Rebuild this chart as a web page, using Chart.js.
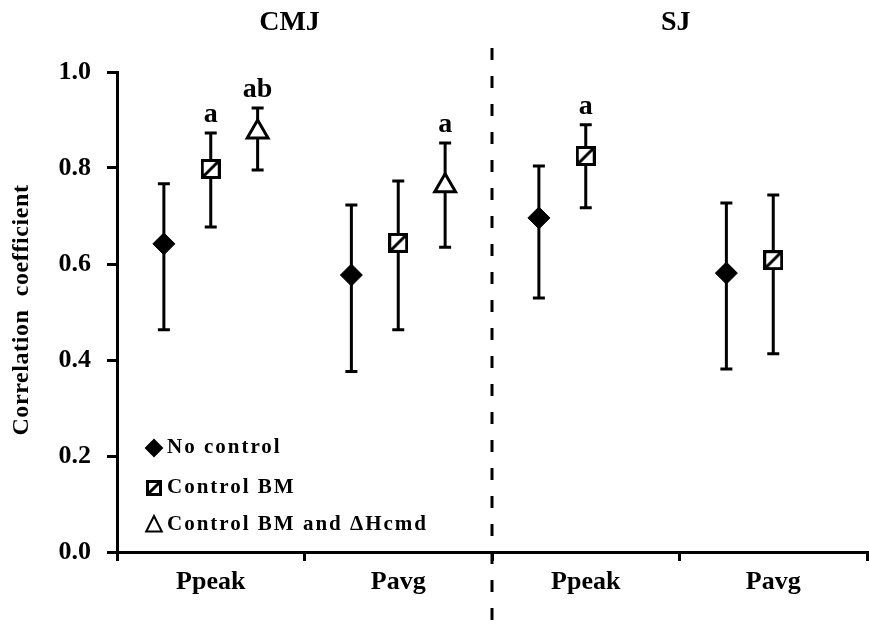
<!DOCTYPE html>
<html>
<head>
<meta charset="utf-8">
<script src="https://cdn.jsdelivr.net/npm/chart.js@4.4.1/dist/chart.umd.min.js"></script>
<style>
  html, body { margin: 0; padding: 0; background: #fff; }
</style>
</head>
<body>
<canvas id="myChart" width="869" height="629"></canvas>
<script>
// categories on the x axis (two per jump type)
const categories = ['Ppeak', 'Pavg', 'Ppeak', 'Pavg'];
const groups = ['CMJ', 'SJ'];
const yTicks = [0, 0.2, 0.4, 0.6, 0.8, 1.0];

// No control
const noControl = [0.642, 0.577, 0.696, 0.581];
const noControlLow = [0.463, 0.376, 0.529, 0.381];
const noControlHigh = [0.767, 0.723, 0.804, 0.727];

// Control BM
const controlBM = [0.798, 0.644, 0.825, 0.608];
const controlBMLow = [0.677, 0.463, 0.717, 0.413];
const controlBMHigh = [0.873, 0.773, 0.890, 0.744];
const controlBMLetters = ['a', '', 'a', ''];

// Control BM and dHcmd (CMJ only)
const controlBMH = [0.875, 0.763];
const controlBMHLow = [0.796, 0.635];
const controlBMHHigh = [0.925, 0.852];
const controlBMHLetters = ['ab', 'a'];

const FONT = '"Liberation Serif", "Times New Roman", serif';

// square marker with a diagonal stroke
function makeSquare(size, border) {
    const c = document.createElement('canvas');
    c.width = size; c.height = size;
    const g = c.getContext('2d');
    g.fillStyle = '#000';
    g.fillRect(0, 0, size, size);
    g.fillStyle = '#fff';
    g.fillRect(border, border, size - 2 * border, size - 2 * border);
    g.strokeStyle = '#000';
    g.lineWidth = border;
    g.beginPath();
    g.moveTo(border, size - border);
    g.lineTo(size - border, border);
    g.stroke();
    return c;
}
const squareBig = makeSquare(20, 3);
const squareSmall = makeSquare(16, 3);

function points(values, offset) {
    return values.map((v, i) => ({ x: i + 0.5 + offset, y: v }));
}

const series = [
    { values: noControl, low: noControlLow, high: noControlHigh, offset: -0.25, letters: [] },
    { values: controlBM, low: controlBMLow, high: controlBMHigh, offset: 0, letters: controlBMLetters },
    { values: controlBMH, low: controlBMHLow, high: controlBMHHigh, offset: 0.25, letters: controlBMHLetters }
];

const extras = {
    id: 'extras',
    beforeDatasetsDraw(chart) {
        const ctx = chart.ctx;
        const xs = chart.scales.x, ys = chart.scales.y;
        ctx.save();
        ctx.strokeStyle = '#000';
        ctx.lineWidth = 3;
        series.forEach(s => {
            s.values.forEach((v, i) => {
                const x = xs.getPixelForValue(i + 0.5 + s.offset);
                const y1 = ys.getPixelForValue(s.low[i]);
                const y2 = ys.getPixelForValue(s.high[i]);
                ctx.beginPath();
                ctx.moveTo(x, y1); ctx.lineTo(x, y2);
                ctx.moveTo(x - 6, y1); ctx.lineTo(x + 6, y1);
                ctx.moveTo(x - 6, y2); ctx.lineTo(x + 6, y2);
                ctx.stroke();
            });
        });
        ctx.restore();
    },
    afterDraw(chart) {
        const ctx = chart.ctx;
        const xs = chart.scales.x, ys = chart.scales.y;
        ctx.save();
        ctx.fillStyle = '#000';

        // significance letters
        ctx.font = 'bold 28px ' + FONT;
        ctx.textAlign = 'center';
        ctx.textBaseline = 'alphabetic';
        series.forEach(s => {
            s.letters.forEach((t, i) => {
                if (!t) return;
                const x = xs.getPixelForValue(i + 0.5 + s.offset);
                const y = ys.getPixelForValue(s.high[i]) - 11;
                ctx.fillText(t, x, y);
            });
        });

        // group titles
        ctx.font = 'bold 28px ' + FONT;
        ctx.textBaseline = 'middle';
        ctx.fillText(groups[0], xs.getPixelForValue(0.92), 23);
        ctx.fillText(groups[1], xs.getPixelForValue(2.98), 23);

        // dashed divider
        ctx.strokeStyle = '#000';
        ctx.lineWidth = 3;
        ctx.setLineDash([12, 16]);
        const xd = xs.getPixelForValue(2);
        ctx.beginPath();
        ctx.moveTo(xd, 48);
        ctx.lineTo(xd, 629);
        ctx.stroke();
        ctx.setLineDash([]);

        // y axis title
        ctx.save();
        ctx.translate(22, 310);
        ctx.rotate(-Math.PI / 2);
        ctx.font = 'bold 24px ' + FONT;
        ctx.letterSpacing = '0.6px';
        ctx.fillText('Correlation  coefficient', 0, 0);
        ctx.restore();

        // legend inside the plot
        const lx = 154;
        const items = [
            { y: 448, text: 'No control', style: 'rectRot', radius: 8, fill: '#000' },
            { y: 488, text: 'Control BM', style: squareSmall },
            { y: 525, text: 'Control BM and \u0394Hcmd', style: 'triangle', radius: 9, fill: '#fff' }
        ];
        ctx.font = 'bold 21px ' + FONT;
        ctx.letterSpacing = '2px';
        ctx.textAlign = 'left';
        ctx.textBaseline = 'middle';
        items.forEach(it => {
            if (typeof it.style === 'string') {
                ctx.fillStyle = it.fill;
                ctx.strokeStyle = '#000';
                ctx.lineWidth = 2;
                const r = it.radius;
                ctx.beginPath();
                if (it.style === 'rectRot') {
                    ctx.moveTo(lx, it.y - r); ctx.lineTo(lx + r, it.y);
                    ctx.lineTo(lx, it.y + r); ctx.lineTo(lx - r, it.y);
                } else {
                    ctx.moveTo(lx, it.y - r);
                    ctx.lineTo(lx + r * 0.866, it.y + r * 0.5 + 2);
                    ctx.lineTo(lx - r * 0.866, it.y + r * 0.5 + 2);
                }
                ctx.closePath();
                ctx.fill();
                ctx.stroke();
            } else {
                ctx.drawImage(it.style, lx - it.style.width / 2, it.y - it.style.height / 2);
            }
            ctx.fillStyle = '#000';
            ctx.fillText(it.text, lx + 13, it.y);
        });
        ctx.restore();
    }
};

const ctx = document.getElementById('myChart').getContext('2d');
const myChart = new Chart(ctx, {
    type: 'scatter',
    data: {
        datasets: [
            {
                label: 'No control',
                data: points(noControl, -0.25),
                pointStyle: 'rectRot',
                pointRadius: 11,
                backgroundColor: '#000',
                borderColor: '#000',
                borderWidth: 1
            },
            {
                label: 'Control BM',
                data: points(controlBM, 0),
                pointStyle: squareBig,
                borderColor: '#000'
            },
            {
                label: 'Control BM and \u0394Hcmd',
                data: points(controlBMH, 0.25),
                pointStyle: 'triangle',
                pointRadius: 12,
                backgroundColor: '#fff',
                borderColor: '#000',
                borderWidth: 3
            }
        ]
    },
    options: {
        responsive: false,
        animation: false,
        layout: { autoPadding: false, padding: { top: 72, right: 2, left: 0, bottom: 0 } },
        plugins: {
            legend: { display: false },
            tooltip: { enabled: false }
        },
        scales: {
            x: {
                type: 'linear',
                min: 0,
                max: 4,
                afterFit(scale) {
                    scale.height = 77;
                    scale.paddingRight = 0;
                },
                afterBuildTicks(scale) {
                    scale.ticks = [0, 0.5, 1, 1.5, 2, 2.5, 3, 3.5, 4].map(v => ({ value: v }));
                },
                ticks: {
                    autoSkip: false,
                    maxRotation: 0,
                    color: '#000',
                    padding: 6,
                    font: { family: FONT, size: 26, weight: 'bold' },
                    callback: (v) => (v % 1 === 0.5) ? categories[Math.floor(v)] : ''
                },
                grid: {
                    drawOnChartArea: false,
                    tickLength: 9,
                    lineWidth: 3,
                    color: (c) => (c.tick && c.tick.value % 1 === 0) ? '#000' : 'rgba(0,0,0,0)'
                },
                border: { display: true, color: '#000', width: 3 }
            },
            y: {
                min: 0,
                max: 1,
                afterFit(scale) {
                    scale.width = 117;
                },
                afterBuildTicks(scale) {
                    scale.ticks = yTicks.map(v => ({ value: v }));
                },
                ticks: {
                    color: '#000',
                    padding: 16,
                    font: { family: FONT, size: 26, weight: 'bold' },
                    callback: (v) => v.toFixed(1)
                },
                grid: {
                    drawOnChartArea: false,
                    tickLength: 10,
                    lineWidth: 3,
                    color: '#000'
                },
                border: { display: true, color: '#000', width: 3 }
            }
        }
    },
    plugins: [extras]
});
</script>
</body>
</html>
